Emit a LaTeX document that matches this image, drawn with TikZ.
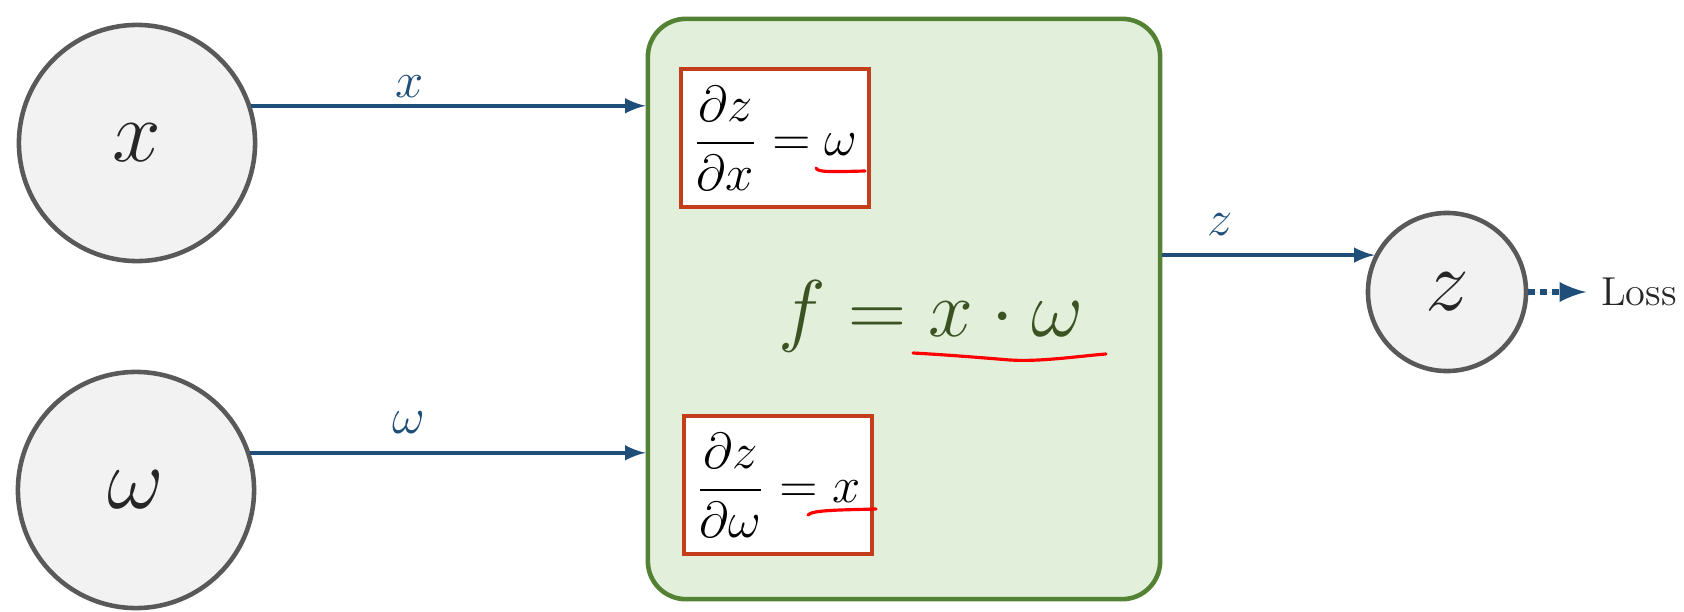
\documentclass[tikz,border=0pt]{standalone}
\usetikzlibrary{positioning}
\usepackage{amsmath,amssymb,xcolor,graphicx}
\definecolor{nodegray}{HTML}{F2F2F2}
\definecolor{rimgray}{HTML}{595959}
\definecolor{linkblue}{HTML}{1F4E79}
\definecolor{opfill}{HTML}{E2EFDA}
\definecolor{opedge}{HTML}{548235}
\definecolor{opink}{HTML}{3B5323}
\definecolor{gradred}{HTML}{C43E1C}

\begin{document}
\begin{tikzpicture}[x=0.01cm, y=-0.01cm, node distance = 4em]
    \tikzset{>=latex}
    % Styles for the variables, the operation box and the links
    \tikzstyle{var}    = [circle, inner sep = 0pt, minimum size = 2.36cm, draw = rimgray, line width = 1.3pt, fill = nodegray, text = black!85, font = \fontsize{24}{28}\selectfont]
    \tikzstyle{opbox}  = [rectangle, rounded corners = 0.38cm, minimum width = 5.12cm, minimum height = 5.8cm, draw = opedge, line width = 1.3pt, fill = opfill]
    \tikzstyle{grad}   = [rectangle, minimum width = 1.87cm, minimum height = 1.38cm, text centered, draw = gradred, line width = 1pt, fill = white, font = \fontsize{14.5}{17}\selectfont]
    \tikzstyle{lbl}    = [text = linkblue, font = \fontsize{14}{16}\selectfont, inner sep = 2pt]
    \tikzstyle{arrow}  = [line width = 1pt, ->, draw = linkblue, fill = linkblue]
    \tikzstyle{penmark} = [draw = red, line width = 0.9pt, line cap = round]

    \useasboundingbox (0,0) rectangle (1684,612);

    \node[var] (xin) at (137,143) {$x$};
    \node[var] (win) at (136,490) {$\omega$};
    \node[opbox] (op) at (904,309) {};
    \node[grad] (dzdx) at (775,138) {$\displaystyle \frac{\partial z}{\partial x} = \omega$};
    \node[grad] (dzdw) at (778,485) {$\displaystyle \frac{\partial z}{\partial \omega} = x$};
    \node[text = opink, font = \fontsize{24}{28}\selectfont] (fml) at (931,316) {\scalebox{0.92}{$f = x \cdot \omega$}};
    \node[var, minimum size = 1.58cm] (zout) at (1447,292) {$z$};
    \node[right = 0.58cm of zout, text = black!85, font = \fontsize{11.5}{14}\selectfont, inner sep = 4pt] (loss) {Loss};

    \draw[arrow] (xin.18) -- (xin.18 -| op.west) node[pos = 0.4, above, lbl] {$x$};
    \draw[arrow] (win.18) -- (win.18 -| op.west) node[pos = 0.4, above = 3pt, lbl] {$\omega$};
    \draw[arrow] (op.east |- zout.153) -- (zout.153) node[pos = 0.27, above = 3pt, lbl] {$z$};
    \draw[arrow, line width = 1.6pt, dash pattern = on 2pt off 1.4pt] (zout) -- (loss);

    % hand drawn underlines
    \draw[penmark] (816,168) .. controls (818,172) and (826,172) .. (865,171);
    \draw[penmark] (808,515) .. controls (812,510) and (840,510) .. (876,509);
    \draw[penmark] (913,353) .. controls (950,355) and (985,358) .. (1010,360) .. controls (1040,362) and (1080,356) .. (1106,354);
\end{tikzpicture}
\end{document}
